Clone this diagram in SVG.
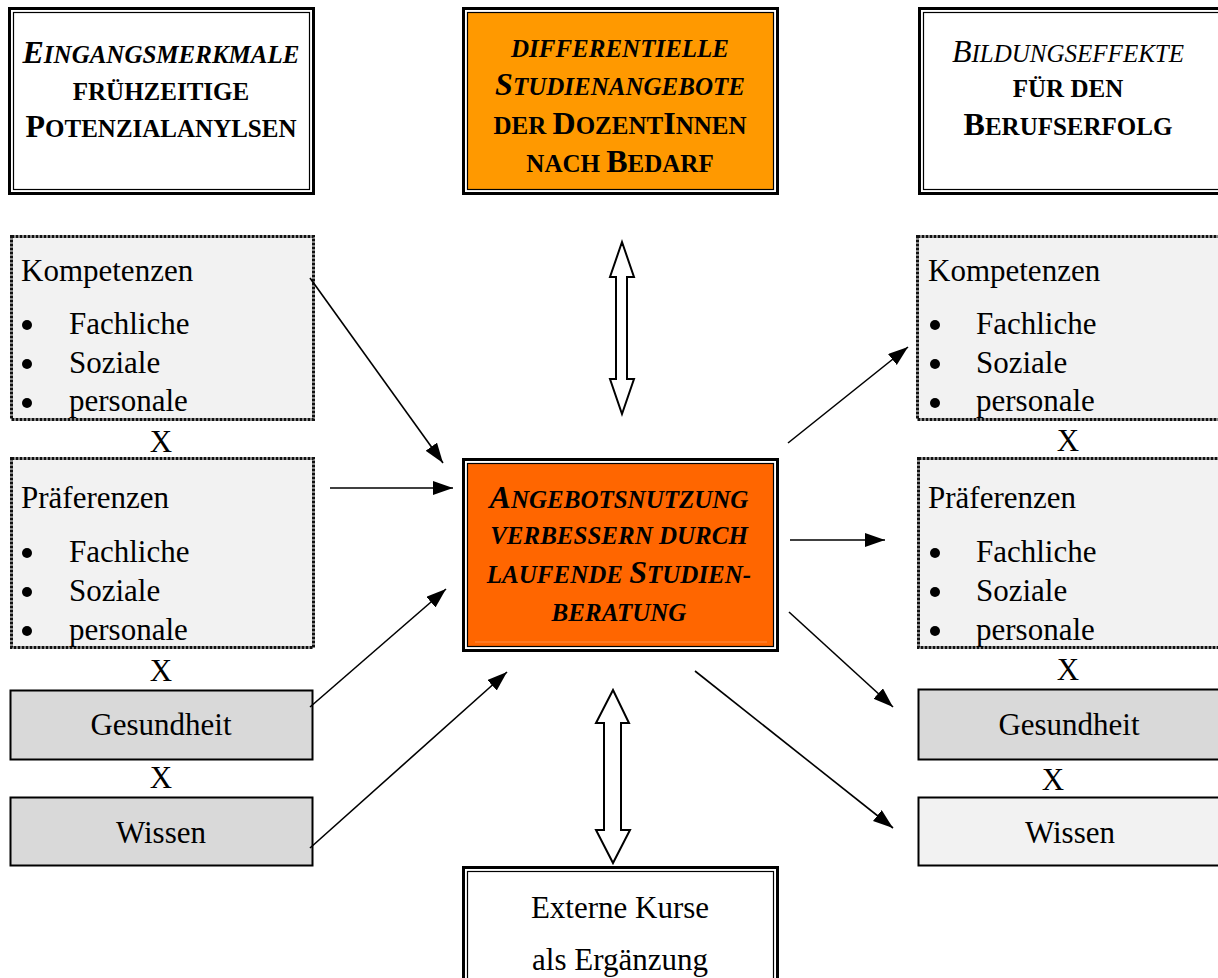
<svg xmlns="http://www.w3.org/2000/svg" width="1218" height="978" viewBox="0 0 1218 978">
<style>
text{font-family:"Liberation Serif","Times New Roman",serif;fill:#000}
.t{font-size:31px}
.h{font-weight:bold;font-size:25px;text-anchor:middle}
.hi{font-style:italic}
.n{font-weight:normal}
.big{font-size:32px}
.outer{fill:#fff;stroke:#000;stroke-width:3}
.inner{stroke:#000;stroke-width:1.2}
.dot{fill:#f2f2f2;stroke:#111;stroke-width:3;stroke-dasharray:3 1}
.solid{stroke:#000;stroke-width:2}
.c{text-anchor:middle}
.con line{stroke:#000;stroke-width:1.6}
.blk{fill:#fff;stroke:#000;stroke-width:2;stroke-linejoin:miter}
</style>
<defs>
<marker id="ah" markerUnits="userSpaceOnUse" markerWidth="22" markerHeight="16" refX="20" refY="7" orient="auto">
<path d="M0,0 L20,7 L0,14 z" fill="#000"/>
</marker>
</defs>

<g id="title-left">
<rect class="outer" x="9.5" y="8.5" width="304" height="185"/>
<rect class="inner" fill="#fff" x="13.5" y="12.5" width="296" height="177"/>
<text class="h hi" x="161" y="63"><tspan class="big">E</tspan>INGANGSMERKMALE</text>
<text class="h" x="161" y="100">FRÜHZEITIGE</text>
<text class="h" x="161" y="137"><tspan class="big">P</tspan>OTENZIALANYLSEN</text>
</g>

<g id="title-center">
<rect class="outer" x="463.5" y="8.5" width="314" height="185"/>
<rect class="inner" fill="#ff9900" x="467.5" y="12.5" width="306" height="177"/>
<text class="h hi" x="620" y="57">DIFFERENTIELLE</text>
<text class="h hi" x="620" y="95"><tspan class="big">S</tspan>TUDIENANGEBOTE</text>
<text class="h" x="620" y="134">DER <tspan class="big">D</tspan>OZENT<tspan class="big">I</tspan>NNEN</text>
<text class="h" x="620" y="172">NACH <tspan class="big">B</tspan>EDARF</text>
</g>

<g id="title-right">
<rect class="outer" x="919.5" y="8.5" width="304" height="185"/>
<rect class="inner" fill="#fff" x="923.5" y="12.5" width="296" height="177"/>
<text class="h hi n" x="1068" y="62"><tspan class="big">B</tspan>ILDUNGSEFFEKTE</text>
<text class="h" x="1068" y="97">FÜR DEN</text>
<text class="h" x="1068" y="135"><tspan class="big">B</tspan>ERUFSERFOLG</text>
</g>

<g id="left-kompetenzen">
<rect class="dot" x="11.5" y="236.5" width="302" height="183"/>
<text class="t" x="21" y="281">Kompetenzen</text>
<circle cx="27" cy="325" r="5"/><text class="t" x="69" y="334">Fachliche</text>
<circle cx="27" cy="364" r="5"/><text class="t" x="69" y="373">Soziale</text>
<circle cx="27" cy="403" r="5"/><text class="t" x="69" y="411">personale</text>
</g>
<text class="t c" x="161" y="452">X</text>

<g id="left-praeferenzen">
<rect class="dot" x="11.5" y="458.5" width="302" height="189"/>
<text class="t" x="21" y="508">Präferenzen</text>
<circle cx="27" cy="553" r="5"/><text class="t" x="69" y="562">Fachliche</text>
<circle cx="27" cy="592" r="5"/><text class="t" x="69" y="601">Soziale</text>
<circle cx="27" cy="631" r="5"/><text class="t" x="69" y="640">personale</text>
</g>
<text class="t c" x="161" y="681">X</text>

<g id="left-gesundheit">
<rect class="solid" fill="#d9d9d9" x="10.5" y="690.5" width="302" height="69"/>
<text class="t c" x="161" y="735">Gesundheit</text>
</g>
<text class="t c" x="161" y="788">X</text>

<g id="left-wissen">
<rect class="solid" fill="#d9d9d9" x="10.5" y="797.5" width="302" height="68"/>
<text class="t c" x="161" y="843">Wissen</text>
</g>

<g id="center-main">
<rect class="outer" stroke-width="3" x="463.5" y="459.5" width="314" height="191"/>
<rect class="inner" fill="#ff6600" x="467.5" y="463.5" width="306" height="183"/>
<line x1="475" y1="642" x2="767" y2="642" stroke="#ff8c45" stroke-width="1"/>
<text class="h hi" x="619" y="508"><tspan class="big">A</tspan>NGEBOTSNUTZUNG</text>
<text class="h hi" x="619" y="544">VERBESSERN DURCH</text>
<text class="h hi" x="619" y="583">LAUFENDE <tspan class="big">S</tspan>TUDIEN-</text>
<text class="h hi" x="619" y="621">BERATUNG</text>
</g>

<g id="bottom-extern">
<rect class="outer" stroke-width="2" x="463.5" y="867.5" width="314" height="130"/>
<rect class="inner" stroke-width="1.6" fill="#fff" x="467.5" y="871.5" width="306" height="130"/>
<text class="t c" x="620" y="918">Externe Kurse</text>
<text class="t c" x="620" y="970">als Ergänzung</text>
</g>

<g id="right-kompetenzen">
<rect class="dot" x="917.5" y="236.5" width="310" height="183"/>
<text class="t" x="928" y="281">Kompetenzen</text>
<circle cx="935" cy="325" r="5"/><text class="t" x="976" y="334">Fachliche</text>
<circle cx="935" cy="364" r="5"/><text class="t" x="976" y="373">Soziale</text>
<circle cx="935" cy="403" r="5"/><text class="t" x="976" y="411">personale</text>
</g>
<text class="t c" x="1068" y="451">X</text>

<g id="right-praeferenzen">
<rect class="dot" x="918.5" y="458.5" width="310" height="189"/>
<text class="t" x="928" y="508">Präferenzen</text>
<circle cx="935" cy="553" r="5"/><text class="t" x="976" y="562">Fachliche</text>
<circle cx="935" cy="592" r="5"/><text class="t" x="976" y="601">Soziale</text>
<circle cx="935" cy="631" r="5"/><text class="t" x="976" y="640">personale</text>
</g>
<text class="t c" x="1068" y="680">X</text>

<g id="right-gesundheit">
<rect class="solid" fill="#d9d9d9" x="918.5" y="689.5" width="310" height="70"/>
<text class="t c" x="1069" y="735">Gesundheit</text>
</g>
<text class="t c" x="1053" y="790">X</text>

<g id="right-wissen">
<rect class="solid" fill="#f2f2f2" x="918.5" y="797.5" width="310" height="68"/>
<text class="t c" x="1070" y="843">Wissen</text>
</g>

<g id="connectors" class="con">
<line x1="310" y1="278" x2="443" y2="463" marker-end="url(#ah)"/>
<line x1="330" y1="488" x2="453" y2="488" marker-end="url(#ah)"/>
<line x1="310" y1="707" x2="446" y2="589" marker-end="url(#ah)"/>
<line x1="310" y1="848" x2="507" y2="672" marker-end="url(#ah)"/>
<line x1="788" y1="443" x2="908" y2="347" marker-end="url(#ah)"/>
<line x1="790" y1="540" x2="885" y2="540" marker-end="url(#ah)"/>
<line x1="789" y1="612" x2="893" y2="707" marker-end="url(#ah)"/>
<line x1="695" y1="671" x2="893" y2="828" marker-end="url(#ah)"/>
<polygon class="blk" points="622,242 634,277 627,277 627,379 634,379 622,414 610,379 616,379 616,277 610,277"/>
<polygon class="blk" points="613,690 629,723 621,723 621,830 630,830 613,863 596,830 604,830 604,723 596,723"/>
</g>
</svg>
